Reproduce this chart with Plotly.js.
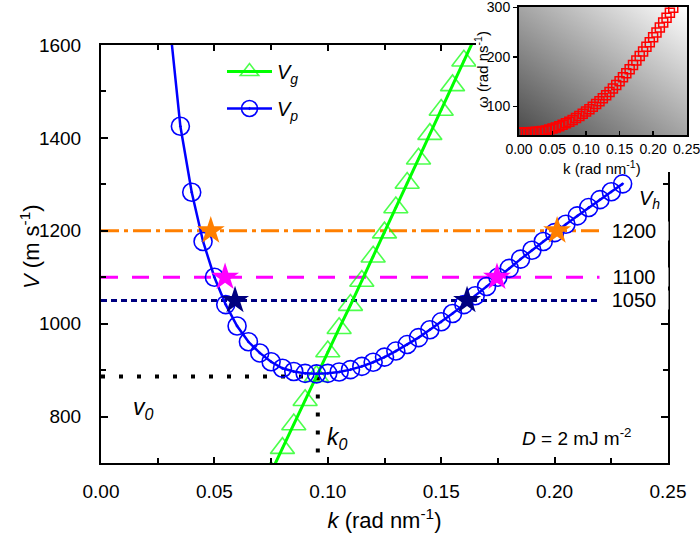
<!DOCTYPE html>
<html>
<head>
<meta charset="utf-8">
<script src="https://cdn.plot.ly/plotly-3.0.1.min.js"></script>
<style>html,body{margin:0;padding:0;background:#fff}#plot{width:700px;height:541px}</style>
</head>
<body>
<div id="plot"></div>
<script>
// ---------- data ----------
const kP = [0.030,0.035,0.040,0.045,0.050,0.055,0.060,0.065,0.070,0.075,0.080,0.085,0.090,0.095,0.100,
            0.105,0.110,0.115,0.120,0.125,0.130,0.135,0.140,0.145,0.150,0.155,0.160,0.165,0.170,0.175,
            0.180,0.185,0.190,0.195,0.200,0.205,0.210,0.215,0.220,0.225,0.230];
const vP = [1660,1425,1283,1177,1100,1041,995,961,937,918,904,897,893,892,893,
            896,901,908,917,928,941,955,970,987,1004,1022,1041,1060,1080,1100,
            1119,1139,1158,1177,1196,1214,1232,1250,1267,1284,1301];

const kG = [0.075,0.080,0.085,0.090,0.095,0.100,0.105,0.110,0.115,0.120,0.125,0.130,0.135,0.140,0.145,0.150,0.155,0.160,0.165];
const vG = [680,732,783,835,887,940,990,1040,1092,1144,1196,1250,1303,1355,1408,1460,1513,1566,1618];

const vhLevels = [1200, 1100, 1050];
const vhLabels = ['1200', '1100', '1050'];
const vhLineK = [0, 0.25];
const starK1200 = [0.0484, 0.2011];
const starK1100 = [0.0547, 0.1746];
const starK1050 = [0.0591, 0.1614];

const k0 = 0.0956;
const v0 = 886;
const vBottom = 700;

const kInset = [0.000,0.005,0.010,0.015,0.020,0.025,0.030,0.035,0.040,0.045,0.050,0.055,0.060,0.065,0.070,0.075,
                0.080,0.085,0.090,0.095,0.100,0.105,0.110,0.115,0.120,0.125,0.130,0.135,0.140,0.145,0.150,0.155,
                0.160,0.165,0.170,0.175,0.180,0.185,0.190,0.195,0.200,0.205,0.210,0.215,0.220,0.225,0.230];
const wInset = [47,47,47.2,47.5,48,48.6,49.3,50,51.3,53,55,57.3,59.7,62.5,65.5,68.8,
                72.3,76.2,80.4,84.7,89.3,94,99,104.4,110,116,122.3,129,136,143,150.6,158.4,
                166.6,175,183.6,192.5,201.5,210.7,220,229.5,239.2,249,259,269,279,289,299];

const xTickVals = [0, 0.05, 0.10, 0.15, 0.20, 0.25];
const yTickVals = [800, 1000, 1200, 1400, 1600];
const insetXTicks = [0, 0.05, 0.10, 0.15, 0.20, 0.25];
const insetYTicks = [100, 200, 300];

// ---------- styling ----------
const FONT = 'Arial, "Liberation Sans", sans-serif';
const vhColors = ['#FF7F00', '#FF00FF', '#000080'];
const vhDash = ['18px,5px,4px,5px', '17px,14px', '6px,4px'];
const starSets = [starK1200, starK1100, starK1050];

const traces = [];

vhLevels.forEach((v, i) => {
  traces.push({
    x: vhLineK, y: [v, v], mode: 'lines', xaxis: 'x', yaxis: 'y',
    line: {color: vhColors[i], width: 3, dash: vhDash[i]},
    showlegend: false, hoverinfo: 'skip'
  });
});

traces.push({
  x: [0, k0], y: [v0, v0], mode: 'lines', xaxis: 'x', yaxis: 'y',
  line: {color: '#000', width: 4, dash: '4px,14px'}, showlegend: false, hoverinfo: 'skip'
});
traces.push({
  x: [k0, k0], y: [v0, vBottom], mode: 'lines', xaxis: 'x', yaxis: 'y',
  line: {color: '#000', width: 4, dash: '4px,14px'}, showlegend: false, hoverinfo: 'skip'
});

traces.push({
  x: kG, y: vG, mode: 'lines+markers', xaxis: 'x', yaxis: 'y',
  name: '<i>V<sub>g</sub></i>', legendgroup: 'g',
  line: {color: '#00FF00', width: 3},
  marker: {symbol: 'triangle-up-open-dot', size: kG.map((k, i) => vG[i] > 1600 ? 0 : 21),
           color: '#00FF00', line: {color: '#00FF00', width: 1.6}}
});

traces.push({
  x: kP, y: vP, mode: 'lines+markers', xaxis: 'x', yaxis: 'y',
  name: '<i>V<sub>p</sub></i>', legendgroup: 'p',
  line: {color: '#0000FF', width: 2.5},
  marker: {symbol: 'circle-open-dot', size: 18, color: '#0000FF', line: {color: '#0000FF', width: 1.6}}
});

starSets.forEach((ks, i) => {
  traces.push({
    x: ks, y: ks.map(() => vhLevels[i]), mode: 'markers', xaxis: 'x', yaxis: 'y',
    marker: {symbol: 'star', size: 21, color: vhColors[i], line: {width: 0}},
    showlegend: false, hoverinfo: 'skip'
  });
});

// white mask behind inset (hides the main frame corner, as in the reference)
traces.push({
  x: [0, 1, 1, 0, 0], y: [0, 0, 1, 1, 0], mode: 'lines', fill: 'toself',
  fillcolor: '#ffffff', line: {width: 0, color: '#ffffff'},
  xaxis: 'x2', yaxis: 'y2', showlegend: false, hoverinfo: 'skip'
});

traces.push({
  x: kInset, y: wInset, mode: 'markers', xaxis: 'x3', yaxis: 'y3',
  marker: {symbol: 'square-open', size: 9, color: '#FF0000', line: {color: '#FF0000', width: 1.5}},
  showlegend: false, hoverinfo: 'skip'
});

const gradSvg = '<svg xmlns="http://www.w3.org/2000/svg" width="200" height="200" preserveAspectRatio="none">' +
  '<defs><linearGradient id="g" x1="0" y1="1" x2="1" y2="0">' +
  '<stop offset="0" stop-color="#4a4a4a"/><stop offset="1" stop-color="#ffffff"/></linearGradient></defs>' +
  '<rect width="200" height="200" fill="url(#g)"/></svg>';

const W = 700, H = 541;
const px = v => v / W;
const py = v => 1 - v / H;

const axisBase = {
  showgrid: false, zeroline: false, showline: true, linecolor: '#000', linewidth: 2,
  tickcolor: '#000', tickwidth: 2, color: '#000', ticklabeloverflow: 'allow'
};

function ann(x, y, text, size, extra) {
  return Object.assign({
    x: px(x), y: py(y), xref: 'paper', yref: 'paper', text: text, showarrow: false,
    xanchor: 'center', yanchor: 'middle',
    font: {family: FONT, size: size, color: '#000'}
  }, extra || {});
}

const annotations = [];
vhLevels.forEach((v, i) => {
  annotations.push({
    x: 0.2348, y: v, xref: 'x', yref: 'y', text: vhLabels[i], showarrow: false,
    xanchor: 'center', yanchor: 'middle',
    font: {family: FONT, size: 20, color: '#000'}, bgcolor: '#ffffff', width: 68, height: 18, borderpad: 0
  });
});
annotations.push(ann(649, 199, '<i>V<sub>h</sub></i>', 20));
annotations.push(ann(143, 408, '<i>v<sub>0</sub></i>', 23));
annotations.push(ann(337, 438, '<i>k<sub>0</sub></i>', 23));
annotations.push(ann(577, 437, '<i>D</i> = 2 mJ m<sup>-2</sup>', 19));
annotations.push(ann(30, 247, '<i>V</i> (m s<sup>-1</sup>)', 22, {textangle: -90}));
annotations.push(ann(602, 168, 'k (rad nm<sup>-1</sup>)', 15));
annotations.push(ann(482, 70, 'ω (rad ns<sup>-1</sup>)', 15, {textangle: -90}));

const layout = {
  width: W, height: H,
  margin: {l: 0, r: 0, t: 0, b: 0},
  paper_bgcolor: '#fff', plot_bgcolor: 'rgba(0,0,0,0)',
  font: {family: FONT, color: '#000'},
  showlegend: true,
  legend: {x: px(222), y: py(52), xanchor: 'left', yanchor: 'top', bgcolor: 'rgba(0,0,0,0)',
           itemwidth: 45,
           font: {family: FONT, size: 20, color: '#000'}, tracegroupgap: 8},
  xaxis: Object.assign({}, axisBase, {
    domain: [px(101), px(668)], anchor: 'y', range: [0, 0.25],
    tickvals: xTickVals, tickformat: '.2f', ticks: 'inside', ticklen: 6, mirror: 'allticks',
    tickfont: {family: FONT, size: 19, color: '#000'}, ticklabelstandoff: 10,
    minor: {dtick: 0.025, tick0: 0, ticks: 'inside', ticklen: 5, tickwidth: 2, tickcolor: '#000'},
    title: {text: '<i>k</i> (rad nm<sup>-1</sup>)', font: {family: FONT, size: 22, color: '#000'}, standoff: 12}
  }),
  yaxis: Object.assign({}, axisBase, {
    domain: [py(463), py(45)], anchor: 'x', range: [700, 1600],
    tickvals: yTickVals, ticks: 'inside', ticklen: 7, mirror: 'allticks',
    tickfont: {family: FONT, size: 19, color: '#000'}, ticklabelstandoff: 14,
    minor: {dtick: 100, tick0: 0, ticks: 'inside', ticklen: 5, tickwidth: 2, tickcolor: '#000'}
  }),
  xaxis2: {domain: [px(476), 1], anchor: 'y2', range: [0, 1], visible: false, fixedrange: true},
  yaxis2: {domain: [py(172), 1], anchor: 'x2', range: [0, 1], visible: false, fixedrange: true},
  xaxis3: Object.assign({}, axisBase, {
    domain: [px(519), px(687)], anchor: 'y3', range: [0, 0.2505],
    tickvals: insetXTicks, tickformat: '.2f', ticks: 'inside', ticklen: 4, tickwidth: 1.5, mirror: true,
    tickfont: {family: FONT, size: 14, color: '#000'}
  }),
  yaxis3: Object.assign({}, axisBase, {
    domain: [py(135), py(7)], anchor: 'x3', range: [42, 300.5],
    tickvals: insetYTicks, ticks: 'outside', ticklen: 4, tickwidth: 1.5, mirror: true,
    tickfont: {family: FONT, size: 14, color: '#000'}
  }),
  images: [{
    source: 'data:image/svg+xml;charset=utf-8,' + encodeURIComponent(gradSvg),
    xref: 'x3', yref: 'y3', x: 0, y: 300.5, sizex: 0.2505, sizey: 258.5,
    xanchor: 'left', yanchor: 'top', sizing: 'stretch', layer: 'below'
  }],
  annotations: annotations
};

Plotly.newPlot('plot', traces, layout, {displayModeBar: false, staticPlot: true});
</script>
</body>
</html>
